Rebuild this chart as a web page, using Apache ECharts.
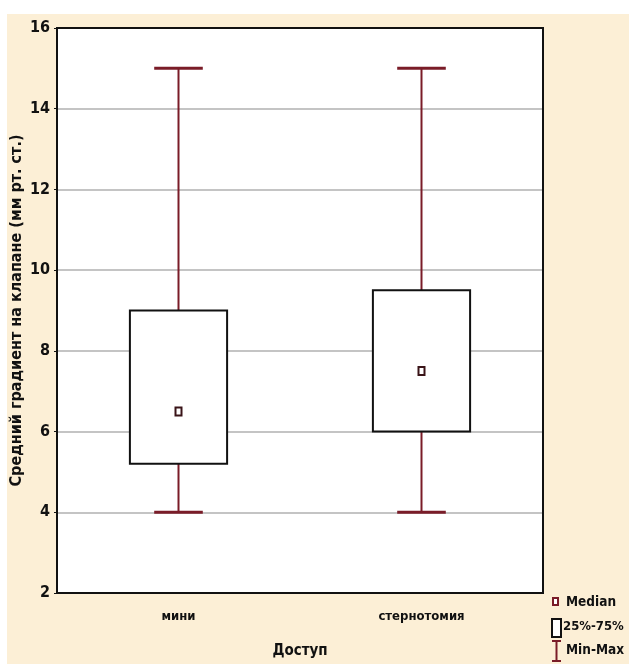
<!DOCTYPE html>
<html><head><meta charset="utf-8">
<script src="https://cdn.jsdelivr.net/npm/echarts@6/dist/echarts.min.js"></script>
<style>html,body{margin:0;padding:0;background:#fff}#c{width:629px;height:664px}</style>
</head><body><div id="c"></div>
<script>
const categories = ['мини', 'стернотомия'];
const minVals = [4, 4];
const q1Vals = [5.2, 6];
const medianVals = [6.5, 7.5];
const q3Vals = [9, 9.5];
const maxVals = [15, 15];
const yTicks = [2, 4, 6, 8, 10, 12, 14, 16];

const boxData = categories.map((c, i) => [i, minVals[i], q1Vals[i], medianVals[i], q3Vals[i], maxVals[i]]);
const maroon = '#7a1c28';
const narrow = '"DejaVu Sans Condensed","Liberation Sans Narrow","Arial Narrow","Liberation Sans",Arial,sans-serif';

const chart = echarts.init(document.getElementById('c'));
chart.setOption({
  animation: false,
  backgroundColor: '#fff',
  graphic: [
    {type: 'rect', z: -10, shape: {x: 7, y: 14, width: 622, height: 650}, style: {fill: '#fcefd6'}},
    {type: 'rect', z: -9, shape: {x: 57, y: 28, width: 486, height: 565}, style: {fill: '#fff'}},
    {type: 'rect', z: 100, shape: {x: 57, y: 28, width: 486, height: 565}, style: {fill: 'none', stroke: '#111', lineWidth: 2}},
    // legend
    {type: 'rect', shape: {x: 553, y: 598, width: 5, height: 7}, style: {fill: '#fff', stroke: maroon, lineWidth: 2}},
    {type: 'text', style: {x: 566, y: 602, text: 'Median', font: 'bold 13.5px ' + narrow, fill: '#111', verticalAlign: 'middle'}},
    {type: 'rect', shape: {x: 552, y: 619, width: 9, height: 18}, style: {fill: '#fff', stroke: '#111', lineWidth: 2}},
    {type: 'text', style: {x: 563, y: 627, text: '25%-75%', font: 'bold 13px ' + narrow, fill: '#111', verticalAlign: 'middle'}},
    {type: 'line', shape: {x1: 552, y1: 641, x2: 561, y2: 641}, style: {stroke: maroon, lineWidth: 2}},
    {type: 'line', shape: {x1: 556.5, y1: 641, x2: 556.5, y2: 661}, style: {stroke: maroon, lineWidth: 2}},
    {type: 'line', shape: {x1: 552, y1: 661, x2: 561, y2: 661}, style: {stroke: maroon, lineWidth: 2}},
    {type: 'text', style: {x: 566, y: 650, text: 'Min-Max', font: 'bold 13.5px ' + narrow, fill: '#111', verticalAlign: 'middle'}}
  ],
  grid: {left: 57, top: 28, right: 86, bottom: 71, show: false, containLabel: false, outerBoundsMode: 'none'},
  xAxis: {
    type: 'category', data: categories, boundaryGap: true,
    name: 'Доступ', nameLocation: 'middle', nameGap: 51, nameMoveOverlap: false,
    nameTextStyle: {fontFamily: narrow, fontWeight: 'bold', fontSize: 15, color: '#111'},
    axisLine: {lineStyle: {color: '#111', width: 2}},
    axisTick: {inside: true, alignWithLabel: true, length: 4, lineStyle: {color: '#111'}},
    axisLabel: {fontFamily: narrow, fontWeight: 'bold', fontSize: 13, color: '#111', margin: 17},
    splitLine: {show: false}
  },
  yAxis: {
    type: 'value', min: yTicks[0], max: yTicks[yTicks.length - 1], interval: 2,
    name: 'Средний градиент на клапане (мм рт. ст.)', nameLocation: 'middle', nameGap: 32, nameMoveOverlap: false,
    nameTextStyle: {fontFamily: narrow, fontWeight: 'bold', fontSize: 16, color: '#111'},
    axisLine: {show: true, lineStyle: {color: '#111', width: 2}},
    axisTick: {show: true, inside: false, length: 3, lineStyle: {color: '#111'}},
    axisLabel: {fontFamily: narrow, fontWeight: 'bold', fontSize: 16, color: '#111', margin: 7},
    splitLine: {show: true, lineStyle: {color: '#c4c4c4', width: 2}}
  },
  series: [{
    type: 'custom',
    data: boxData,
    renderItem: function (params, api) {
      const x = api.value(0);
      const pMin = api.coord([x, api.value(1)]);
      const pQ1 = api.coord([x, api.value(2)]);
      const pMed = api.coord([x, api.value(3)]);
      const pQ3 = api.coord([x, api.value(4)]);
      const pMax = api.coord([x, api.value(5)]);
      const band = api.size([1, 0])[0];
      const bw = band * 0.4, cw = band * 0.2;
      const cx = pMed[0];
      return {
        type: 'group',
        children: [
          {type: 'line', shape: {x1: cx, y1: pMax[1], x2: cx, y2: pQ3[1]}, style: {stroke: maroon, lineWidth: 2}},
          {type: 'line', shape: {x1: cx, y1: pQ1[1], x2: cx, y2: pMin[1]}, style: {stroke: maroon, lineWidth: 2}},
          {type: 'line', shape: {x1: cx - cw / 2, y1: pMax[1], x2: cx + cw / 2, y2: pMax[1]}, style: {stroke: maroon, lineWidth: 3}},
          {type: 'line', shape: {x1: cx - cw / 2, y1: pMin[1], x2: cx + cw / 2, y2: pMin[1]}, style: {stroke: maroon, lineWidth: 3}},
          {type: 'rect', shape: {x: cx - bw / 2, y: pQ3[1], width: bw, height: pQ1[1] - pQ3[1]}, style: {fill: '#fff', stroke: '#111', lineWidth: 2}},
          {type: 'rect', shape: {x: cx - 3, y: pMed[1] - 4, width: 6, height: 8}, style: {fill: '#fff', stroke: '#3a1418', lineWidth: 2}}
        ]
      };
    }
  }]
});
</script></body></html>
